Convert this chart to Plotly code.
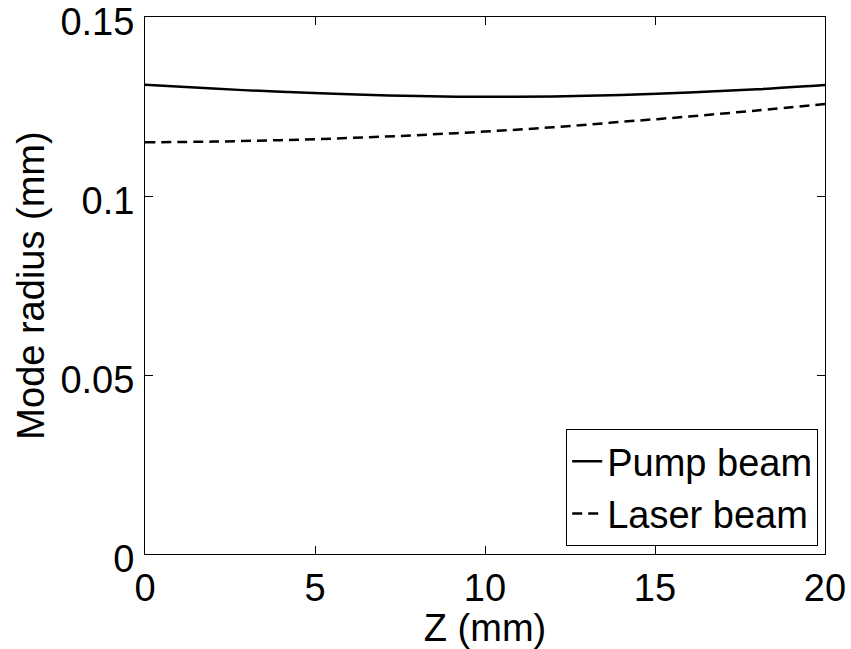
import plotly.graph_objects as go

# Propagation distance through the crystal (mm)
z_mm = [0, 2, 4, 6, 8, 10, 12, 14, 16, 18, 20]
# Beam radii along z (mm)
pump_radius = [0.1311, 0.1300, 0.1291, 0.1284, 0.1279, 0.1277, 0.1278, 0.1282, 0.1289, 0.1298, 0.1310]
laser_radius = [0.1150, 0.1152, 0.1156, 0.1162, 0.1170, 0.1180, 0.1192, 0.1207, 0.1222, 0.1239, 0.1257]

y_ticks = [0, 0.05, 0.1, 0.15]
y_ticktext = ["0", "0.05", "0.1", "0.15"]
x_ticks = [0, 5, 10, 15, 20]

FONT = "Liberation Sans, Arial, Helvetica, sans-serif"
FS = 38

fig = go.Figure()
fig.add_trace(go.Scatter(x=z_mm, y=pump_radius, mode="lines", name="Pump beam",
                         line=dict(color="black", width=2.5, shape="spline")))
fig.add_trace(go.Scatter(x=z_mm, y=laser_radius, mode="lines", name="Laser beam",
                         line=dict(color="black", width=2.5, dash="10px,6px", shape="spline")))

axis_common = dict(showline=True, linecolor="black", linewidth=1, mirror="allticks",
                   ticks="inside", ticklen=8, tickcolor="black", showgrid=False,
                   zeroline=False, automargin=False, ticklabeloverflow="allow",
                   tickfont=dict(size=FS, color="black", family=FONT))

fig.update_xaxes(range=[0, 20], tickvals=x_ticks,
                 title=dict(text="Z (mm)", font=dict(size=FS, color="black", family=FONT), standoff=0),
                 **axis_common)
fig.update_yaxes(range=[0, 0.15], tickvals=y_ticks, ticktext=y_ticktext, ticklabelshift=5,
                 ticklabelstandoff=2,
                 title=dict(text="Mode radius (mm)", font=dict(size=FS, color="black", family=FONT), standoff=4),
                 **axis_common)

fig.update_layout(
    width=851, height=649,
    margin=dict(l=145, r=26, t=17, b=95),
    paper_bgcolor="white", plot_bgcolor="white",
    font=dict(family=FONT, color="black", size=FS),
    legend=dict(x=0.99, y=0.015, xanchor="right", yanchor="bottom",
                bgcolor="white", bordercolor="black", borderwidth=1,
                font=dict(size=FS, family=FONT, color="black"),
                itemwidth=30, tracegroupgap=0),
)

fig.write_html("out.html")
